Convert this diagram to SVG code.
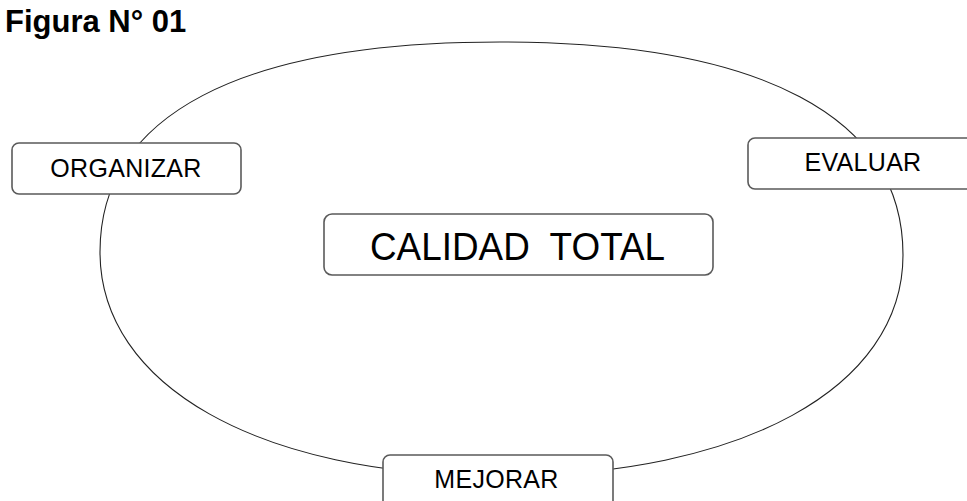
<svg xmlns="http://www.w3.org/2000/svg" width="967" height="501" viewBox="0 0 967 501">
  <style>
    .box { fill: #ffffff; stroke: #5a5a5a; stroke-width: 1.6; }
    .lbl { font-family: "Liberation Sans", Arial, sans-serif; font-size: 25px; fill: #000; text-anchor: middle; letter-spacing: 0.3px; }
    .conn { fill: none; stroke: #222; stroke-width: 1.1; }
  </style>
  <rect width="967" height="501" fill="#ffffff"/>
  <text x="5" y="32" font-family="Liberation Sans, Arial, sans-serif" font-weight="bold" font-size="31" fill="#000">Figura N° 01</text>
  <g id="connectors">
    <path class="conn" d="M500,42 C762,42 903,117 903,255 C903,388 742,476 500,476 C258,476 100,385 100,252 C100,115 240,42 500,42 Z"/>
  </g>
  <g id="organizar">
    <rect class="box" x="12" y="143" width="229" height="51" rx="7"/>
    <text class="lbl" x="126" y="177">ORGANIZAR</text>
  </g>
  <g id="evaluar">
    <rect class="box" x="748" y="138" width="240" height="51" rx="7"/>
    <text class="lbl" x="863" y="171">EVALUAR</text>
  </g>
  <g id="calidad">
    <rect class="box" x="324" y="214" width="389" height="61" rx="8"/>
    <text class="lbl" x="517.5" y="260" xml:space="preserve" textLength="295" lengthAdjust="spacingAndGlyphs" style="font-size:38px; white-space:pre; letter-spacing:0">CALIDAD  TOTAL</text>
  </g>
  <g id="mejorar">
    <rect class="box" x="383" y="455" width="230" height="60" rx="7"/>
    <text class="lbl" x="496.5" y="488">MEJORAR</text>
  </g>
</svg>
